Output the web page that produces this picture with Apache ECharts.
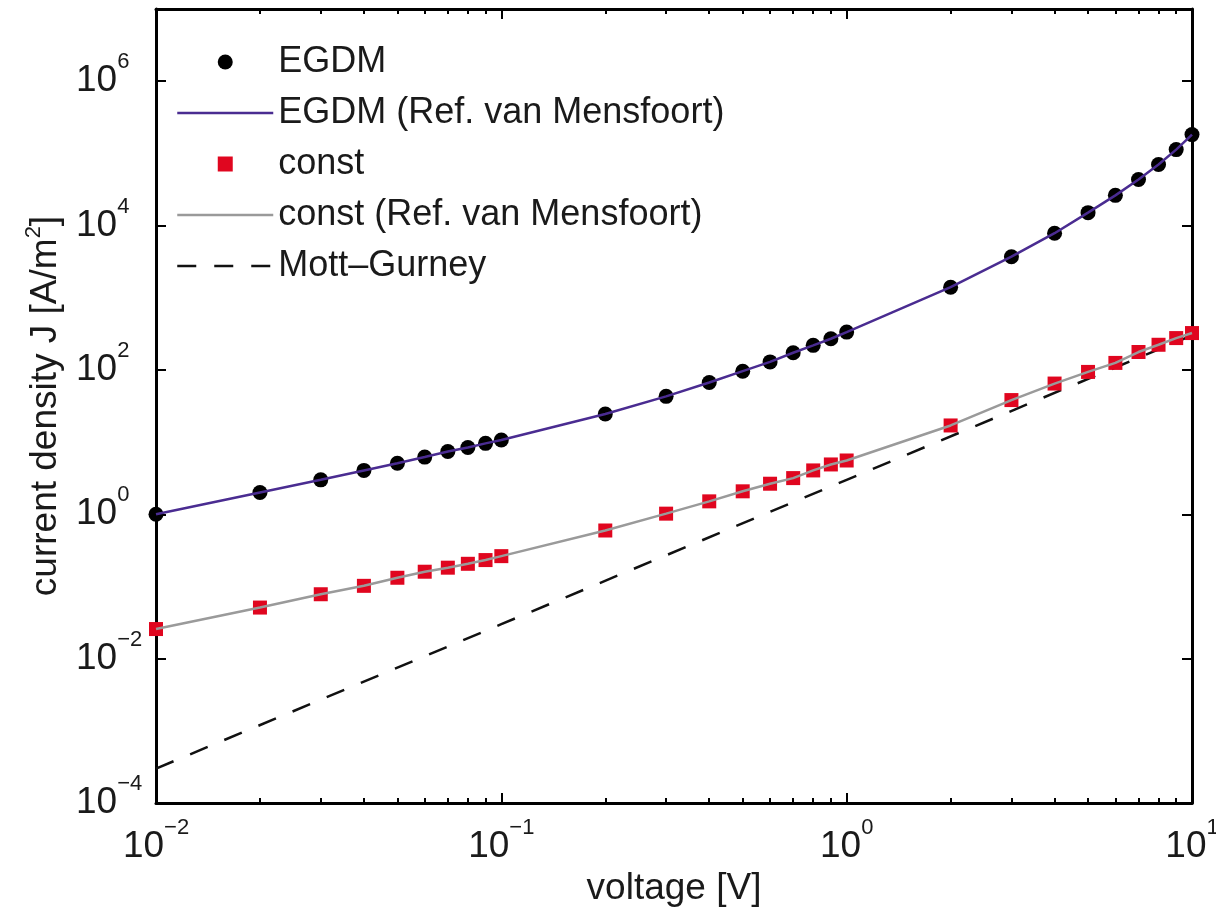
<!DOCTYPE html>
<html>
<head>
<meta charset="utf-8">
<script src="https://cdn.jsdelivr.net/npm/echarts@6/dist/echarts.min.js"></script>
<style>
html, body { margin: 0; padding: 0; background: #fff; }
#chart { width: 1216px; height: 910px; }
</style>
</head>
<body>
<div id="chart"></div>
<script>
// voltage [V]
const voltage = [0.01, 0.02, 0.03, 0.04, 0.05, 0.06, 0.07, 0.08, 0.09, 0.1,
  0.2, 0.3, 0.4, 0.5, 0.6, 0.7, 0.8, 0.9, 1, 2, 3, 4, 5, 6, 7, 8, 9, 10];
// current density J [A/m^2]
const egdm = [1.0, 2.0, 3.0, 4.05, 5.1, 6.2, 7.4, 8.4, 9.6, 10.7,
  24.5, 43, 67, 96, 129, 173, 219, 270, 334,
  1400, 3700, 7830, 15100, 26200, 43500, 70100, 112800, 182000];
const constMob = [0.0257, 0.051, 0.078, 0.102, 0.132, 0.160, 0.182, 0.206, 0.232, 0.263,
  0.596, 1.02, 1.51, 2.08, 2.65, 3.17, 4.05, 4.9, 5.56,
  17, 38.2, 64.7, 93.8, 125, 177, 223, 276, 324];
// Mott-Gurney law, straight line on log-log
const mgVoltage = [0.01, 0.1, 1, 10];
const mottGurney = [3.0e-4, 0.03, 3.0, 300];

const xMajor = [0.01, 0.1, 1, 10];
const xMinor = [0.02, 0.03, 0.04, 0.05, 0.06, 0.07, 0.08, 0.09,
  0.2, 0.3, 0.4, 0.5, 0.6, 0.7, 0.8, 0.9, 2, 3, 4, 5, 6, 7, 8, 9];
const yMajor = [1e-4, 1e-2, 1, 1e2, 1e4, 1e6];

const FONT = 'Liberation Sans';
const TXT = '#1a1a1a';

function zip(xs, ys) {
  return xs.map((x, i) => [x, ys[i]]);
}

function powLabel(v) {
  const e = Math.round(Math.log10(v));
  return '{b|10}{s|' + String(e).replace('-', '\u2212') + '}';
}

const powRich = {
  b: { fontFamily: FONT, fontSize: 37, color: TXT, lineHeight: 60, verticalAlign: 'middle' },
  s: { fontFamily: FONT, fontSize: 22, color: TXT, lineHeight: 22, verticalAlign: 'top' }
};

const lineBlack = { color: '#000', width: 3 };
const tickMajor = { inside: true, length: 10, lineStyle: { color: '#000', width: 2 } };
const tickMinor = { inside: true, length: 5, lineStyle: { color: '#000', width: 2 } };

const baseX = { type: 'log', logBase: 10, min: 0.01, max: 10, splitLine: { show: false }, minorTick: { show: false } };
const baseY = { type: 'log', logBase: 10, min: 1e-4, max: 1e7, splitLine: { show: false }, minorTick: { show: false } };

let myChart = echarts.init(document.getElementById('chart'));

const option = {
  backgroundColor: '#fff',
  animation: false,
  grid: { left: 156, right: 24, top: 9, bottom: 107, outerBoundsMode: 'none', containLabel: false },
  legend: {
    orient: 'vertical',
    left: 176,
    top: 43,
    padding: 0,
    itemGap: 13,
    itemWidth: 96,
    itemHeight: 15,
    symbolKeepAspect: true,
    selectedMode: false,
    textStyle: { fontFamily: FONT, fontSize: 36, color: TXT, lineHeight: 38 },
    data: [
      { name: 'EGDM', icon: 'circle' },
      { name: 'EGDM (Ref. van Mensfoort)', itemStyle: { opacity: 0 }, lineStyle: { width: 2.5 } },
      { name: 'const', icon: 'path://M0,0H10V10H0Z', symbolKeepAspect: true },
      { name: 'const (Ref. van Mensfoort)', itemStyle: { opacity: 0 }, lineStyle: { width: 2.5 } },
      { name: 'Mott\u2013Gurney', itemStyle: { opacity: 0 }, lineStyle: { width: 2.5 } }
    ]
  },
  xAxis: [
    Object.assign({}, baseX, {
      position: 'bottom',
      axisLine: { lineStyle: lineBlack },
      axisTick: Object.assign({ customValues: xMajor }, tickMajor),
      axisLabel: { customValues: xMajor, margin: 14, formatter: powLabel, rich: powRich },
      name: 'voltage [V]',
      nameLocation: 'middle',
      nameGap: 66,
      nameTextStyle: { fontFamily: FONT, fontSize: 37, color: TXT }
    }),
    Object.assign({}, baseX, {
      position: 'bottom',
      axisLine: { show: false },
      axisTick: Object.assign({ customValues: xMinor }, tickMinor),
      axisLabel: { show: false }
    }),
    Object.assign({}, baseX, {
      position: 'top',
      axisLine: { lineStyle: lineBlack },
      axisTick: Object.assign({ customValues: xMajor }, tickMajor),
      axisLabel: { show: false }
    }),
    Object.assign({}, baseX, {
      position: 'top',
      axisLine: { show: false },
      axisTick: Object.assign({ customValues: xMinor }, tickMinor),
      axisLabel: { show: false }
    })
  ],
  yAxis: [
    Object.assign({}, baseY, {
      position: 'left',
      axisLine: { lineStyle: lineBlack },
      axisTick: Object.assign({ customValues: yMajor }, tickMajor),
      axisLabel: { customValues: yMajor, align: 'left', margin: 80, formatter: powLabel, rich: powRich },
      name: '{a|current density J [A/m}{s|2}{a|]}',
      nameLocation: 'middle',
      nameRotate: 90,
      nameGap: 87,
      nameTextStyle: {
        rich: {
          a: { fontFamily: FONT, fontSize: 37, color: TXT, lineHeight: 46, verticalAlign: 'middle' },
          s: { fontFamily: FONT, fontSize: 22, color: TXT, lineHeight: 22, verticalAlign: 'top' }
        }
      }
    }),
    Object.assign({}, baseY, {
      position: 'right',
      axisLine: { lineStyle: lineBlack },
      axisTick: Object.assign({ customValues: yMajor }, tickMajor),
      axisLabel: { show: false }
    })
  ],
  series: [
    {
      name: 'EGDM',
      type: 'scatter',
      data: zip(voltage, egdm),
      symbol: 'circle',
      symbolSize: 15,
      clip: false,
      z: 2,
      itemStyle: { color: '#000', opacity: 1 }
    },
    {
      name: 'EGDM (Ref. van Mensfoort)',
      type: 'line',
      data: zip(voltage, egdm),
      symbol: 'none',
      smooth: false,
      z: 3,
      itemStyle: { color: '#4a2c91' },
      lineStyle: { color: '#4a2c91', width: 2.5 }
    },
    {
      name: 'const',
      type: 'scatter',
      data: zip(voltage, constMob),
      symbol: 'rect',
      symbolSize: 14,
      clip: false,
      z: 2,
      itemStyle: { color: '#e0061f', opacity: 1 }
    },
    {
      name: 'const (Ref. van Mensfoort)',
      type: 'line',
      data: zip(voltage, constMob),
      symbol: 'none',
      smooth: false,
      z: 3,
      itemStyle: { color: '#9a9a9a' },
      lineStyle: { color: '#9a9a9a', width: 2.5 }
    },
    {
      name: 'Mott\u2013Gurney',
      type: 'line',
      data: zip(mgVoltage, mottGurney),
      symbol: 'none',
      z: 1,
      itemStyle: { color: '#111' },
      lineStyle: { color: '#111', width: 2.5, type: [19, 18] }
    }
  ]
};

myChart.setOption(option, true);
</script>
</body>
</html>
